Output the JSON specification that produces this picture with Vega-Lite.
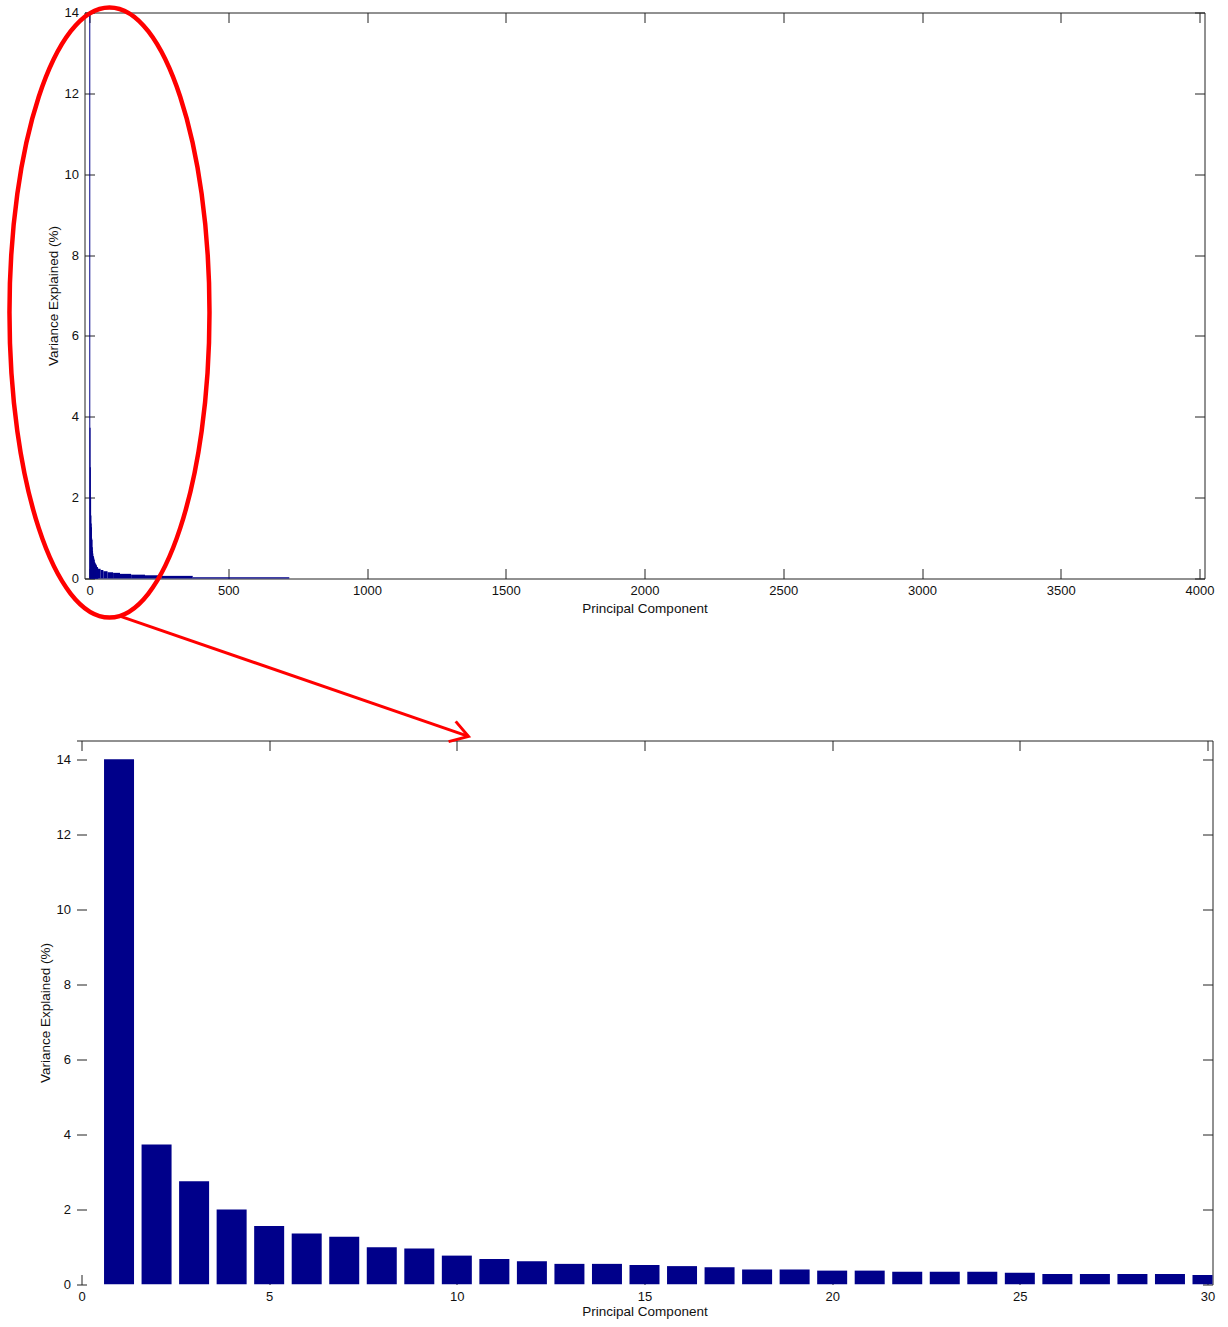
{
  "$schema": "https://vega.github.io/schema/vega-lite/v6.json",
  "autosize": {"type": "pad"},
  "padding": {"left": 6.5, "top": 4.5, "right": 0, "bottom": 0},
  "background": "white",
  "bounds": "flush",
  "center": true,
  "spacing": 162,
  "datasets": {
    "pcs": [
      {"c": 1, "v": 14.0}, {"c": 2, "v": 3.73}, {"c": 3, "v": 2.75}, {"c": 4, "v": 2.0},
      {"c": 5, "v": 1.56}, {"c": 6, "v": 1.36}, {"c": 7, "v": 1.27}, {"c": 8, "v": 0.99},
      {"c": 9, "v": 0.96}, {"c": 10, "v": 0.77}, {"c": 11, "v": 0.68}, {"c": 12, "v": 0.62},
      {"c": 13, "v": 0.55}, {"c": 14, "v": 0.55}, {"c": 15, "v": 0.52}, {"c": 16, "v": 0.49},
      {"c": 17, "v": 0.46}, {"c": 18, "v": 0.40}, {"c": 19, "v": 0.40}, {"c": 20, "v": 0.37},
      {"c": 21, "v": 0.37}, {"c": 22, "v": 0.34}, {"c": 23, "v": 0.34}, {"c": 24, "v": 0.34},
      {"c": 25, "v": 0.31}, {"c": 26, "v": 0.28}, {"c": 27, "v": 0.28}, {"c": 28, "v": 0.28},
      {"c": 29, "v": 0.28}, {"c": 30, "v": 0.25}
    ],
    "tail": [
      {"from": 30, "to": 40, "v": 0.24},
      {"from": 40, "to": 50, "v": 0.21},
      {"from": 50, "to": 65, "v": 0.18},
      {"from": 65, "to": 85, "v": 0.155},
      {"from": 85, "to": 110, "v": 0.14},
      {"from": 110, "to": 150, "v": 0.115},
      {"from": 150, "to": 200, "v": 0.095},
      {"from": 200, "to": 260, "v": 0.08},
      {"from": 260, "to": 372, "v": 0.065},
      {"from": 372, "to": 720, "v": 0.03}
    ],
    "ellipse": [{"x": 72, "y": 6.58}],
    "arrow": [
      {"part": "shaft", "ord": 1, "x": 1.06, "y": 17.80},
      {"part": "shaft", "ord": 2, "x": 10.31, "y": 14.61},
      {"part": "head", "ord": 1, "x": 9.97, "y": 15.01},
      {"part": "head", "ord": 2, "x": 10.31, "y": 14.61},
      {"part": "head", "ord": 3, "x": 9.78, "y": 14.47}
    ]
  },
  "vconcat": [
    {
      "width": 1120,
      "height": 566,
      "resolve": {"axis": {"x": "independent", "y": "independent"}},
      "layer": [
        {
          "data": {"name": "pcs"},
          "mark": {"type": "bar", "size": 1, "color": "#00008a"},
          "encoding": {
            "x": {"field": "c", "type": "quantitative",
                  "scale": {"domain": [0, 4000], "nice": false},
                  "axis": {"orient": "bottom", "format": "d", "values": [0, 500, 1000, 1500, 2000, 2500, 3000, 3500, 4000], "title": "Principal Component"}},
            "y": {"field": "v", "type": "quantitative",
                  "scale": {"domain": [0, 14], "nice": false},
                  "axis": {"orient": "left", "values": [0, 2, 4, 6, 8, 10, 12, 14], "title": "Variance Explained (%)"}}
          }
        },
        {
          "data": {"name": "tail"},
          "mark": {"type": "rect", "color": "#00008a"},
          "encoding": {
            "x": {"field": "from", "type": "quantitative", "scale": {"domain": [0, 4000], "nice": false}, "axis": null},
            "x2": {"field": "to"},
            "y": {"field": "v", "type": "quantitative", "scale": {"domain": [0, 14], "nice": false}, "axis": null},
            "y2": {"datum": 0}
          }
        },
        {
          "data": {"name": "ellipse"},
          "mark": {
            "type": "point",
            "shape": "M 0 -1 C 0.1811 -1 0.3279 -0.5523 0.3279 0 C 0.3279 0.5523 0.1811 1 0 1 C -0.1811 1 -0.3279 0.5523 -0.3279 0 C -0.3279 -0.5523 -0.1811 -1 0 -1 Z",
            "size": 372100,
            "filled": false,
            "color": "#ff0000",
            "strokeWidth": 4.5,
            "strokeJoin": "round",
            "opacity": 1
          },
          "encoding": {
            "x": {"field": "x", "type": "quantitative", "scale": {"domain": [0, 4000], "nice": false},
                  "axis": {"orient": "top", "labels": false, "title": null, "values": [0, 500, 1000, 1500, 2000, 2500, 3000, 3500, 4000]}},
            "y": {"field": "y", "type": "quantitative", "scale": {"domain": [0, 14], "nice": false},
                  "axis": {"orient": "right", "labels": false, "title": null, "values": [0, 2, 4, 6, 8, 10, 12, 14]}}
          }
        }
      ]
    },
    {
      "width": 1136,
      "height": 544,
      "resolve": {"axis": {"x": "independent", "y": "independent"}},
      "layer": [
        {
          "data": {"name": "pcs"},
          "mark": {"type": "bar", "size": 30, "color": "#00008a", "clip": true},
          "encoding": {
            "x": {"field": "c", "type": "quantitative",
                  "scale": {"domain": [0, 30], "nice": false},
                  "axis": {"orient": "bottom", "values": [0, 5, 10, 15, 20, 25, 30], "title": "Principal Component", "domain": false, "titlePadding": 1}},
            "y": {"field": "v", "type": "quantitative",
                  "scale": {"domain": [0, 14.5], "nice": false},
                  "axis": {"orient": "left", "values": [0, 2, 4, 6, 8, 10, 12, 14], "title": "Variance Explained (%)", "domain": false}}
          }
        },
        {
          "data": {"name": "arrow"},
          "mark": {"type": "line", "color": "#ff0000", "strokeWidth": 3},
          "encoding": {
            "x": {"field": "x", "type": "quantitative", "scale": {"domain": [0, 30], "nice": false},
                  "axis": {"orient": "top", "labels": false, "title": null, "values": [0, 5, 10, 15, 20, 25, 30]}},
            "y": {"field": "y", "type": "quantitative", "scale": {"domain": [0, 14.5], "nice": false},
                  "axis": {"orient": "right", "labels": false, "title": null, "values": [0, 2, 4, 6, 8, 10, 12, 14]}},
            "detail": {"field": "part"},
            "order": {"field": "ord"}
          }
        }
      ]
    }
  ],
  "config": {
    "view": {"stroke": null},
    "axis": {
      "grid": false,
      "labelFont": "Liberation Sans",
      "titleFont": "Liberation Sans",
      "labelFontSize": 13,
      "titleFontSize": 13.5,
      "titleFontWeight": "normal",
      "labelColor": "#111111",
      "titleColor": "#111111",
      "domainColor": "#222222",
      "tickColor": "#222222",
      "tickSize": -10,
      "labelPadding": 16,
      "titlePadding": 4,
      "labelFlush": false,
      "labelOverlap": false
    }
  }
}
